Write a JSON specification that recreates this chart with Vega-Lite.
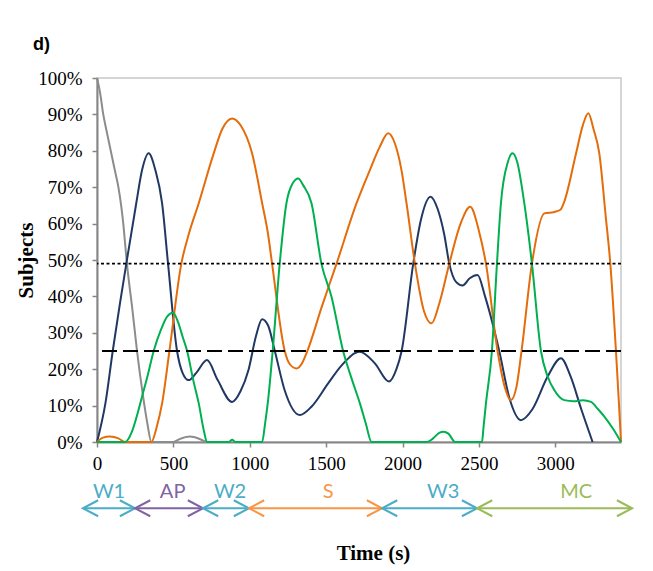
{
  "$schema": "https://vega.github.io/schema/vega-lite/v6.json",
  "width": 524,
  "height": 364,
  "autosize": {"type": "none"},
  "padding": {"left": 97, "top": 78, "right": 32, "bottom": 129},
  "background": "white",
  "config": {
    "view": {"stroke": "#C8C8C8", "strokeWidth": 1.5},
    "font": "Liberation Serif",
    "axis": {"labelOverlap": false, "labelFlush": false, "grid": false},
    "axisY": {"tickCount": 11}
  },
  "title": {"text": "d)", "anchor": "start", "frame": "group", "dx": -64, "offset": 15, "font": "Liberation Sans", "fontSize": 18, "fontWeight": "bold", "color": "black"},
  "datasets": {
    "thresholds": [
      {"pct": 49, "kind": "dotted"},
      {"pct": 25, "kind": "dashed"}
    ],
    "phases": [
      {"phase": "W1", "t": -92, "t2": 249, "lx": 79},
      {"phase": "AP", "t": 249, "t2": 694, "lx": 495},
      {"phase": "W2", "t": 694, "t2": 995, "lx": 871},
      {"phase": "S", "t": 995, "t2": 1866, "lx": 1513},
      {"phase": "W3", "t": 1866, "t2": 2488, "lx": 2266},
      {"phase": "MC", "t": 2488, "t2": 3503, "lx": 3137}
    ],
    "curves": [
      {"series": "Gray", "t": 0, "pct": 100},
      {"series": "Gray", "t": 20, "pct": 96},
      {"series": "Gray", "t": 41, "pct": 90},
      {"series": "Gray", "t": 65, "pct": 85},
      {"series": "Gray", "t": 90, "pct": 80},
      {"series": "Gray", "t": 115, "pct": 75},
      {"series": "Gray", "t": 140, "pct": 70},
      {"series": "Gray", "t": 158, "pct": 65},
      {"series": "Gray", "t": 172, "pct": 60},
      {"series": "Gray", "t": 185, "pct": 54},
      {"series": "Gray", "t": 196, "pct": 49},
      {"series": "Gray", "t": 230, "pct": 37},
      {"series": "Gray", "t": 262, "pct": 25},
      {"series": "Gray", "t": 300, "pct": 13},
      {"series": "Gray", "t": 330, "pct": 5},
      {"series": "Gray", "t": 356, "pct": 0},
      {"series": "Gray", "t": 500, "pct": 0},
      {"series": "Gray", "t": 540, "pct": 0.8},
      {"series": "Gray", "t": 610, "pct": 1.5},
      {"series": "Gray", "t": 680, "pct": 0.7},
      {"series": "Gray", "t": 720, "pct": 0},
      {"series": "Gray", "t": 830, "pct": 0},

      {"series": "Navy", "t": 0, "pct": 0},
      {"series": "Navy", "t": 55, "pct": 10.6},
      {"series": "Navy", "t": 103, "pct": 25},
      {"series": "Navy", "t": 150, "pct": 38},
      {"series": "Navy", "t": 192, "pct": 49},
      {"series": "Navy", "t": 257, "pct": 65.6},
      {"series": "Navy", "t": 295, "pct": 74.7},
      {"series": "Navy", "t": 338, "pct": 79.3},
      {"series": "Navy", "t": 382, "pct": 74.7},
      {"series": "Navy", "t": 426, "pct": 65.6},
      {"series": "Navy", "t": 465, "pct": 49},
      {"series": "Navy", "t": 524, "pct": 25},
      {"series": "Navy", "t": 560, "pct": 19},
      {"series": "Navy", "t": 600, "pct": 17},
      {"series": "Navy", "t": 650, "pct": 19},
      {"series": "Navy", "t": 720, "pct": 22.5},
      {"series": "Navy", "t": 790, "pct": 17},
      {"series": "Navy", "t": 884, "pct": 11},
      {"series": "Navy", "t": 940, "pct": 14},
      {"series": "Navy", "t": 993, "pct": 20},
      {"series": "Navy", "t": 1040, "pct": 29},
      {"series": "Navy", "t": 1081, "pct": 33.7},
      {"series": "Navy", "t": 1120, "pct": 32},
      {"series": "Navy", "t": 1164, "pct": 25},
      {"series": "Navy", "t": 1230, "pct": 14},
      {"series": "Navy", "t": 1328, "pct": 7.4},
      {"series": "Navy", "t": 1404, "pct": 9.7},
      {"series": "Navy", "t": 1513, "pct": 16.1},
      {"series": "Navy", "t": 1600, "pct": 21},
      {"series": "Navy", "t": 1720, "pct": 24.8},
      {"series": "Navy", "t": 1819, "pct": 21.6},
      {"series": "Navy", "t": 1911, "pct": 16.6},
      {"series": "Navy", "t": 1960, "pct": 20},
      {"series": "Navy", "t": 1994, "pct": 25},
      {"series": "Navy", "t": 2070, "pct": 49},
      {"series": "Navy", "t": 2120, "pct": 61},
      {"series": "Navy", "t": 2183, "pct": 67.4},
      {"series": "Navy", "t": 2230, "pct": 64},
      {"series": "Navy", "t": 2273, "pct": 57},
      {"series": "Navy", "t": 2306, "pct": 49},
      {"series": "Navy", "t": 2350, "pct": 44},
      {"series": "Navy", "t": 2393, "pct": 43},
      {"series": "Navy", "t": 2440, "pct": 45},
      {"series": "Navy", "t": 2491, "pct": 45.9},
      {"series": "Navy", "t": 2540, "pct": 40},
      {"series": "Navy", "t": 2633, "pct": 25},
      {"series": "Navy", "t": 2700, "pct": 12},
      {"series": "Navy", "t": 2775, "pct": 6},
      {"series": "Navy", "t": 2850, "pct": 9},
      {"series": "Navy", "t": 2950, "pct": 18},
      {"series": "Navy", "t": 3037, "pct": 23},
      {"series": "Navy", "t": 3100, "pct": 18},
      {"series": "Navy", "t": 3170, "pct": 9},
      {"series": "Navy", "t": 3244, "pct": 0},

      {"series": "Orange", "t": 0, "pct": 0},
      {"series": "Orange", "t": 40, "pct": 1.2},
      {"series": "Orange", "t": 85, "pct": 1.5},
      {"series": "Orange", "t": 140, "pct": 1},
      {"series": "Orange", "t": 183, "pct": 0},
      {"series": "Orange", "t": 356, "pct": 0},
      {"series": "Orange", "t": 390, "pct": 4},
      {"series": "Orange", "t": 426, "pct": 10.6},
      {"series": "Orange", "t": 474, "pct": 25},
      {"series": "Orange", "t": 552, "pct": 49},
      {"series": "Orange", "t": 600, "pct": 57},
      {"series": "Orange", "t": 666, "pct": 65.6},
      {"series": "Orange", "t": 764, "pct": 79.3},
      {"series": "Orange", "t": 820, "pct": 86},
      {"series": "Orange", "t": 884, "pct": 88.9},
      {"series": "Orange", "t": 940, "pct": 87},
      {"series": "Orange", "t": 1015, "pct": 79.3},
      {"series": "Orange", "t": 1081, "pct": 65.6},
      {"series": "Orange", "t": 1120, "pct": 57},
      {"series": "Orange", "t": 1146, "pct": 49},
      {"series": "Orange", "t": 1229, "pct": 25},
      {"series": "Orange", "t": 1260, "pct": 21.5},
      {"series": "Orange", "t": 1306, "pct": 20.2},
      {"series": "Orange", "t": 1340, "pct": 21.5},
      {"series": "Orange", "t": 1377, "pct": 25},
      {"series": "Orange", "t": 1470, "pct": 37},
      {"series": "Orange", "t": 1568, "pct": 49},
      {"series": "Orange", "t": 1699, "pct": 65.6},
      {"series": "Orange", "t": 1786, "pct": 74.7},
      {"series": "Orange", "t": 1850, "pct": 81},
      {"series": "Orange", "t": 1906, "pct": 84.8},
      {"series": "Orange", "t": 1950, "pct": 82},
      {"series": "Orange", "t": 1993, "pct": 74.7},
      {"series": "Orange", "t": 2026, "pct": 65.6},
      {"series": "Orange", "t": 2081, "pct": 49},
      {"series": "Orange", "t": 2140, "pct": 36},
      {"series": "Orange", "t": 2190, "pct": 32.6},
      {"series": "Orange", "t": 2240, "pct": 38},
      {"series": "Orange", "t": 2306, "pct": 49},
      {"series": "Orange", "t": 2380, "pct": 60},
      {"series": "Orange", "t": 2443, "pct": 64.6},
      {"series": "Orange", "t": 2500, "pct": 58},
      {"series": "Orange", "t": 2546, "pct": 49},
      {"series": "Orange", "t": 2622, "pct": 25},
      {"series": "Orange", "t": 2670, "pct": 15},
      {"series": "Orange", "t": 2709, "pct": 11.5},
      {"series": "Orange", "t": 2745, "pct": 15},
      {"series": "Orange", "t": 2779, "pct": 25},
      {"series": "Orange", "t": 2847, "pct": 49},
      {"series": "Orange", "t": 2928, "pct": 62.8},
      {"series": "Orange", "t": 2994, "pct": 63.2},
      {"series": "Orange", "t": 3033, "pct": 63.8},
      {"series": "Orange", "t": 3055, "pct": 65.6},
      {"series": "Orange", "t": 3136, "pct": 79.3},
      {"series": "Orange", "t": 3180, "pct": 87},
      {"series": "Orange", "t": 3216, "pct": 90.3},
      {"series": "Orange", "t": 3250, "pct": 86},
      {"series": "Orange", "t": 3288, "pct": 79.3},
      {"series": "Orange", "t": 3330, "pct": 62},
      {"series": "Orange", "t": 3360, "pct": 49},
      {"series": "Orange", "t": 3397, "pct": 25},
      {"series": "Orange", "t": 3420, "pct": 8},
      {"series": "Orange", "t": 3430, "pct": 0},

      {"series": "Green", "t": 0, "pct": 0},
      {"series": "Green", "t": 183, "pct": 0},
      {"series": "Green", "t": 230, "pct": 3},
      {"series": "Green", "t": 260, "pct": 7},
      {"series": "Green", "t": 295, "pct": 12.5},
      {"series": "Green", "t": 330, "pct": 18},
      {"series": "Green", "t": 371, "pct": 25},
      {"series": "Green", "t": 420, "pct": 31},
      {"series": "Green", "t": 460, "pct": 34.5},
      {"series": "Green", "t": 498, "pct": 35.5},
      {"series": "Green", "t": 530, "pct": 33},
      {"series": "Green", "t": 560, "pct": 29},
      {"series": "Green", "t": 590, "pct": 25},
      {"series": "Green", "t": 630, "pct": 17},
      {"series": "Green", "t": 666, "pct": 10.6},
      {"series": "Green", "t": 700, "pct": 3},
      {"series": "Green", "t": 720, "pct": 0},
      {"series": "Green", "t": 860, "pct": 0},
      {"series": "Green", "t": 885, "pct": 0.6},
      {"series": "Green", "t": 906, "pct": 0},
      {"series": "Green", "t": 1081, "pct": 0},
      {"series": "Green", "t": 1100, "pct": 5},
      {"series": "Green", "t": 1120, "pct": 11.5},
      {"series": "Green", "t": 1150, "pct": 25},
      {"series": "Green", "t": 1196, "pct": 49},
      {"series": "Green", "t": 1240, "pct": 65.6},
      {"series": "Green", "t": 1280, "pct": 71},
      {"series": "Green", "t": 1317, "pct": 72.4},
      {"series": "Green", "t": 1350, "pct": 70.5},
      {"series": "Green", "t": 1404, "pct": 65.6},
      {"series": "Green", "t": 1469, "pct": 49},
      {"series": "Green", "t": 1535, "pct": 39.9},
      {"series": "Green", "t": 1611, "pct": 25},
      {"series": "Green", "t": 1670, "pct": 17},
      {"series": "Green", "t": 1721, "pct": 10.6},
      {"series": "Green", "t": 1760, "pct": 5},
      {"series": "Green", "t": 1797, "pct": 0},
      {"series": "Green", "t": 2160, "pct": 0},
      {"series": "Green", "t": 2200, "pct": 1},
      {"series": "Green", "t": 2240, "pct": 2.5},
      {"series": "Green", "t": 2268, "pct": 2.8},
      {"series": "Green", "t": 2300, "pct": 2.3},
      {"series": "Green", "t": 2345, "pct": 0},
      {"series": "Green", "t": 2520, "pct": 0},
      {"series": "Green", "t": 2530, "pct": 4},
      {"series": "Green", "t": 2546, "pct": 10.6},
      {"series": "Green", "t": 2585, "pct": 25},
      {"series": "Green", "t": 2618, "pct": 49},
      {"series": "Green", "t": 2644, "pct": 65.6},
      {"series": "Green", "t": 2690, "pct": 77},
      {"series": "Green", "t": 2720, "pct": 79.3},
      {"series": "Green", "t": 2750, "pct": 77},
      {"series": "Green", "t": 2797, "pct": 65.6},
      {"series": "Green", "t": 2847, "pct": 49},
      {"series": "Green", "t": 2906, "pct": 25},
      {"series": "Green", "t": 2950, "pct": 18},
      {"series": "Green", "t": 2993, "pct": 14.3},
      {"series": "Green", "t": 3059, "pct": 11.5},
      {"series": "Green", "t": 3120, "pct": 11.2},
      {"series": "Green", "t": 3180, "pct": 11.5},
      {"series": "Green", "t": 3234, "pct": 11},
      {"series": "Green", "t": 3280, "pct": 9},
      {"series": "Green", "t": 3321, "pct": 7},
      {"series": "Green", "t": 3380, "pct": 3.5},
      {"series": "Green", "t": 3430, "pct": 0}
    ]
  },
  "layer": [
    {
      "data": {"name": "curves"},
      "mark": {"type": "line", "interpolate": "monotone", "strokeWidth": 2},
      "encoding": {
        "x": {
          "field": "t", "type": "quantitative",
          "scale": {"domain": [0, 3430]},
          "axis": {
            "values": [0, 500, 1000, 1500, 2000, 2500, 3000],
            "format": "d",
            "title": "Time (s)",
            "titleFont": "Liberation Serif", "titleFontSize": 21, "titleFontWeight": "bold", "titleColor": "black",
            "titlePadding": 69, "titleX": 276,
            "labelFont": "Liberation Serif", "labelFontSize": 19, "labelColor": "black",
            "labelFlush": false, "labelOverlap": false, "labelPadding": 7,
            "tickSize": 5, "tickColor": "#868686", "tickWidth": 1.5,
            "domainColor": "#868686", "domainWidth": 2, "grid": false
          }
        },
        "y": {
          "field": "pct", "type": "quantitative",
          "scale": {"domain": [0, 100]},
          "axis": {
            "values": [0, 10, 20, 30, 40, 50, 60, 70, 80, 90, 100],
            "tickCount": 11,
            "labelExpr": "datum.value + '%'",
            "title": "Subjects",
            "titleFont": "Liberation Serif", "titleFontSize": 21, "titleFontWeight": "bold", "titleColor": "black",
            "titlePadding": 1,
            "labelFont": "Liberation Serif", "labelFontSize": 19, "labelColor": "black",
            "labelFlush": false, "labelOverlap": false, "labelPadding": 10,
            "tickSize": 5, "tickColor": "#868686", "tickWidth": 1.5,
            "domainColor": "#868686", "domainWidth": 2, "grid": false
          }
        },
        "color": {
          "field": "series", "type": "nominal",
          "scale": {"domain": ["Gray", "Navy", "Orange", "Green"], "range": ["#8C8C8C", "#1F3864", "#E46C0A", "#00B050"]},
          "legend": null
        }
      }
    },
    {
      "data": {"name": "thresholds"},
      "mark": {"type": "rule", "strokeWidth": 1.8, "color": "black"},
      "encoding": {
        "y": {"field": "pct", "type": "quantitative", "scale": {"domain": [0, 100]}},
        "strokeDash": {
          "field": "kind", "type": "nominal",
          "scale": {"domain": ["dotted", "dashed"], "range": [[3, 2.5], [15, 6]]},
          "legend": null
        }
      }
    },
    {
      "data": {"name": "phases"},
      "mark": {"type": "rule", "strokeWidth": 2},
      "encoding": {
        "x": {"field": "t", "type": "quantitative", "scale": {"domain": [0, 3430]}},
        "x2": {"field": "t2"},
        "y": {"datum": -18.2, "type": "quantitative", "scale": {"domain": [0, 100]}},
        "color": {
          "field": "phase", "type": "nominal",
          "scale": {"domain": ["W1", "AP", "W2", "S", "W3", "MC"], "range": ["#4BACC6", "#8064A2", "#4BACC6", "#F79646", "#4BACC6", "#9BBB59"]},
          "legend": null
        }
      }
    },
    {
      "data": {"name": "phases"},
      "transform": [{"fold": ["t", "t2"], "as": ["end", "t"]}],
      "mark": {"type": "point", "filled": false, "strokeWidth": 2, "opacity": 1, "size": 256},
      "encoding": {
        "x": {"field": "t", "type": "quantitative", "scale": {"domain": [0, 3430]}},
        "y": {"datum": -18.2, "type": "quantitative", "scale": {"domain": [0, 100]}},
        "shape": {
          "field": "end", "type": "nominal",
          "scale": {"domain": ["t", "t2"], "range": ["M1.9,-1L0,0L1.9,1", "M-1.9,-1L0,0L-1.9,1"]},
          "legend": null
        },
        "color": {
          "field": "phase", "type": "nominal",
          "scale": {"domain": ["W1", "AP", "W2", "S", "W3", "MC"], "range": ["#4BACC6", "#8064A2", "#4BACC6", "#F79646", "#4BACC6", "#9BBB59"]},
          "legend": null
        }
      }
    },
    {
      "data": {"name": "phases"},
      "mark": {"type": "text", "font": "Lato", "fontSize": 20, "baseline": "alphabetic", "align": "center"},
      "encoding": {
        "x": {"field": "lx", "type": "quantitative", "scale": {"domain": [0, 3430]}},
        "y": {"datum": -15.4, "type": "quantitative", "scale": {"domain": [0, 100]}},
        "text": {"field": "phase"},
        "color": {
          "field": "phase", "type": "nominal",
          "scale": {"domain": ["W1", "AP", "W2", "S", "W3", "MC"], "range": ["#4BACC6", "#8064A2", "#4BACC6", "#F79646", "#4BACC6", "#9BBB59"]},
          "legend": null
        }
      }
    }
  ],
  "resolve": {"scale": {"color": "independent"}}
}
